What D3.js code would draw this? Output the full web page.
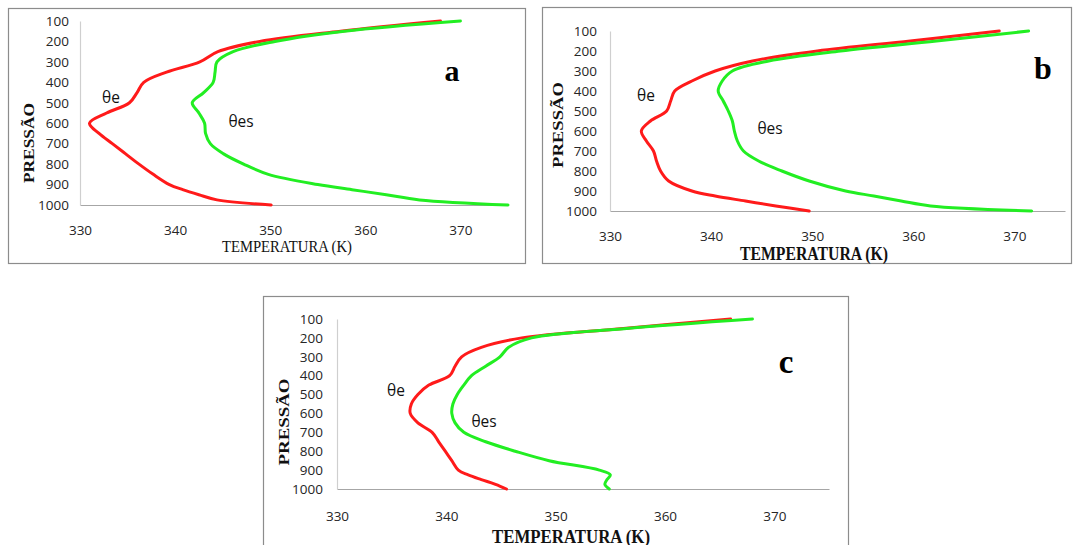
<!DOCTYPE html>
<html>
<head>
<meta charset="utf-8">
<script src="https://cdn.jsdelivr.net/npm/d3@7"></script>
<style>
	body { margin:0; background:#fff; }
	svg { display:block; }
</style>
</head>
<body>
<svg id="fig" width="1073" height="545"></svg>
<script>

// pressure levels (hPa) shared by the three profiles
var pressure = [100,150,200,250,300,350,400,450,500,550,600,650,700,750,800,850,900,925,950,975,1000];

// panel a
var thetaE_a  = [367.9,357.4,348.9,344.5,342.6,339.1,336.7,336.0,335.2,332.8,331.0,332.0,333.4,334.8,336.2,337.7,339.4,340.8,342.5,344.4,350.1];
var thetaES_a = [370.0,357.8,350.5,346.1,344.4,344.2,344.0,343.0,341.8,342.5,343.1,343.2,343.7,345.1,347.2,349.8,355.0,358.6,362.2,365.7,375.0];

// panel b
var thetaE_b  = [368.5,359.7,350.5,344.1,340.4,338.1,336.4,336.0,335.6,334.0,333.1,333.6,334.3,334.6,335.0,335.8,338.1,340.4,343.4,346.4,349.7];
var thetaES_b = [371.4,362.3,352.8,345.7,342.1,341.1,340.7,341.2,341.7,342.1,342.3,342.6,343.2,344.7,347.0,349.7,353.3,356.1,358.8,361.7,371.7];

// panel c
var thetaE_c  = [366.0,356.2,346.9,343.2,341.4,340.8,340.3,338.4,337.4,336.8,336.7,337.4,338.7,339.3,339.9,340.5,341.1,342.0,343.2,344.5,345.5];
var thetaES_c = [368.0,356.5,347.8,345.7,344.9,343.6,342.3,341.6,341.0,340.6,340.5,340.8,341.6,343.6,346.3,349.4,354.0,355.0,354.7,354.5,354.9];

var tempTicks = [330,340,350,360,370];
var tempDomain = [330,375];
var pressureTicks = [100,200,300,400,500,600,700,800,900,1000];

var seriesNames = ['θe','θes'];
var seriesColors = ['#ff1a1a','#22ee22'];

var panels = [
	{
		letter:'a', red:thetaE_a, green:thetaES_a,
		box:[8,8,525,263], xRange:[80,508], yRange:[21,205],
		xPad:20, yPad:11,
		title:{x:287,y:246,size:17,weight:'normal',len:130},
		pres:{x:29,y:143,size:14,len:80},
		lab:[[111,97],[241,121]],
		let:{x:452,y:70,size:30}
	},
	{
		letter:'b', red:thetaE_b, green:thetaES_b,
		box:[542,7,1071,263], xRange:[610,1065], yRange:[31,211],
		xPad:20, yPad:13,
		title:{x:814,y:253,size:19,weight:'bold',len:148},
		pres:{x:558,y:125,size:15,len:86},
		lab:[[646,95],[770,128]],
		let:{x:1043,y:68,size:32}
	},
	{
		letter:'c', red:thetaE_c, green:thetaES_c,
		box:[263,296,848,549], xRange:[337,829], yRange:[319,489],
		xPad:22, yPad:14,
		title:{x:571,y:536,size:19,weight:'bold',len:158},
		pres:{x:284,y:422,size:14,len:87},
		lab:[[396,390],[484,421]],
		let:{x:786,y:362,size:33}
	}
];

var svg = d3.select('#fig');

svg.append('rect')
	.attr('width',1073)
	.attr('height',545)
	.attr('fill','#fff');

panels.forEach(function(p){

	var g = svg.append('g');

	// frame
	g.append('rect')
		.attr('x',p.box[0]+0.5)
		.attr('y',p.box[1]+0.5)
		.attr('width',p.box[2]-p.box[0])
		.attr('height',p.box[3]-p.box[1])
		.attr('fill','none')
		.attr('stroke','#8c8c8c')
		.attr('stroke-width',1.2);

	var xScale = d3.scaleLinear()
					.domain(tempDomain)
					.range(p.xRange);

	var yScale = d3.scaleLinear()
					.domain([100,1000])
					.range(p.yRange);

	var xAxis = d3.axisBottom(xScale)
					.tickValues(tempTicks)
					.tickFormat(d3.format('d'))
					.tickSize(0)
					.tickSizeOuter(0)
					.tickPadding(p.xPad);

	var yAxis = d3.axisLeft(yScale)
					.tickValues(pressureTicks)
					.tickFormat(d3.format('d'))
					.tickSize(0)
					.tickSizeOuter(0)
					.tickPadding(p.yPad);

	var gx = g.append('g')
		.attr('transform','translate(0,'+p.yRange[1]+')')
		.call(xAxis);
	gx.select('.domain').attr('stroke','#a6a6a6').attr('stroke-width',1.2);

	var gy = g.append('g')
		.attr('transform','translate('+p.xRange[0]+',0)')
		.call(yAxis);
	gy.select('.domain').attr('stroke','#cfcfcf').attr('stroke-width',1.2);

	g.selectAll('.tick text')
		.attr('font-family','"Open Sans", "Liberation Sans", sans-serif')
		.attr('font-size',13.5)
		.attr('fill','#262626');

	// profiles
	var line = d3.line()
				.x(d => xScale(d[0]))
				.y(d => yScale(d[1]))
				.curve(d3.curveCatmullRom.alpha(0.5));

	[p.red,p.green].forEach(function(vals,i){
		var pts = vals.map((v,k) => [v,pressure[k]]);
		g.append('path')
			.datum(pts)
			.attr('d',line)
			.attr('fill','none')
			.attr('stroke',seriesColors[i])
			.attr('stroke-width',3)
			.attr('stroke-linejoin','round')
			.attr('stroke-linecap','round');
	});

	// series labels
	p.lab.forEach(function(pos,i){
		g.append('text')
			.text(seriesNames[i])
			.attr('x',pos[0])
			.attr('y',pos[1])
			.attr('text-anchor','middle')
			.attr('dominant-baseline','central')
			.attr('font-family','"Open Sans", "Noto Sans", sans-serif')
			.attr('font-size',15.5)
			.attr('fill','#111');
	});

	// panel letter
	g.append('text')
		.text(p.letter)
		.attr('x',p.let.x)
		.attr('y',p.let.y)
		.attr('text-anchor','middle')
		.attr('dominant-baseline','central')
		.attr('font-family','"Liberation Serif", serif')
		.attr('font-weight','bold')
		.attr('font-size',p.let.size)
		.attr('fill','#000');

	// axis titles
	g.append('text')
		.text('TEMPERATURA (K)')
		.attr('x',p.title.x - p.title.len/2)
		.attr('y',p.title.y)
		.attr('dominant-baseline','central')
		.attr('textLength',p.title.len)
		.attr('lengthAdjust','spacingAndGlyphs')
		.attr('font-family','"Liberation Serif", serif')
		.attr('font-weight',p.title.weight)
		.attr('font-size',p.title.size)
		.attr('fill','#111');

	g.append('text')
		.text('PRESSÃO')
		.attr('transform','translate('+p.pres.x+','+p.pres.y+') rotate(-90)')
		.attr('x',-p.pres.len/2)
		.attr('y',0)
		.attr('dominant-baseline','central')
		.attr('textLength',p.pres.len)
		.attr('lengthAdjust','spacingAndGlyphs')
		.attr('font-family','"Liberation Serif", serif')
		.attr('font-weight','bold')
		.attr('font-size',p.pres.size)
		.attr('fill','#111');
});

</script>
</body>
</html>
